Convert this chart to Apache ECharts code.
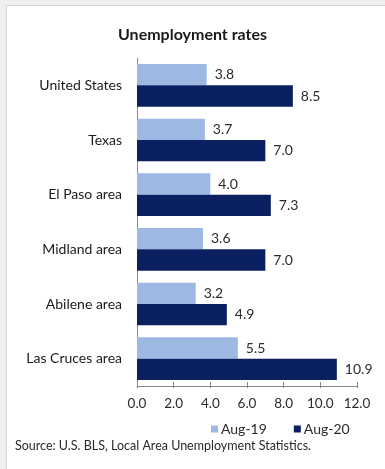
<!DOCTYPE html>
<html>
<head>
<meta charset="utf-8">
<script src="https://cdn.jsdelivr.net/npm/echarts@6/dist/echarts.min.js"></script>
<style>
html,body{margin:0;padding:0;background:#f0f0f0;width:385px;height:469px;overflow:hidden;}
#frame{position:absolute;left:6px;top:5px;right:0;bottom:0;background:#fff;border-left:1px solid #d6d6d6;border-top:1px solid #d6d6d6;}
#chart{position:absolute;left:0;top:0;width:385px;height:469px;}
</style>
</head>
<body>
<div id="frame"></div>
<div id="chart"></div>
<script>
const categories = ["United States", "Texas", "El Paso area", "Midland area", "Abilene area", "Las Cruces area"];
const aug19 = [3.8, 3.7, 4.0, 3.6, 3.2, 5.5];
const aug20 = [8.5, 7.0, 7.3, 7.0, 4.9, 10.9];
const seriesNames = ["Aug-19", "Aug-20"];
const xTicks = [0, 2, 4, 6, 8, 10, 12];

const font = "Lato, 'Open Sans', sans-serif";
const chart = echarts.init(document.getElementById('chart'), null, {renderer: 'canvas'});
const labelCfg = {
  show: true, position: 'right', distance: 8,
  color: '#2a2a2a', fontSize: 14, fontFamily: font,
  formatter: p => p.value.toFixed(1)
};
const xMin = xTicks[0], xMax = xTicks[xTicks.length-1];
chart.setOption({
  animation: false,
  backgroundColor: 'transparent',
  title: {
    text: 'Unemployment rates', left: 'center', top: 22,
    textStyle: {fontFamily: font, fontSize: 16, fontWeight: 'bold', color: '#1a1a1a'}
  },
  legend: {
    data: seriesNames, left: 206, top: 417,
    itemWidth: 7, itemHeight: 7, itemGap: 27, icon: 'rect',
    textStyle: {fontFamily: font, fontSize: 14, color: '#2a2a2a', padding: [0,0,0,-2]}
  },
  graphic: [{
    type: 'text', left: 15, top: 439,
    style: {text: 'Source: U.S. BLS, Local Area Unemployment Statistics.', font: '12.5px ' + font, fill: '#2a2a2a'}
  }],
  grid: {left: 137, right: 28, top: 58, bottom: 83},
  xAxis: [{
    type: 'value', min: xMin, max: xMax, interval: 2,
    splitLine: {show: false},
    axisLine: {show: true, lineStyle: {color: '#888'}},
    axisTick: {show: true, length: 2, lineStyle: {color: '#888'}},
    axisLabel: {fontFamily: font, fontSize: 13.5, color: '#2a2a2a', margin: 11, formatter: v => v.toFixed(1)}
  }, {
    type: 'value', min: xMin, max: xMax, interval: 2, position: 'bottom',
    splitLine: {show: false},
    axisLine: {show: false},
    axisTick: {show: true, inside: true, length: 4, lineStyle: {color: '#888'}},
    axisLabel: {show: false}
  }],
  yAxis: {
    type: 'category', data: categories, inverse: true,
    axisLine: {show: true, lineStyle: {color: '#888'}},
    axisTick: {show: false},
    axisLabel: {fontFamily: font, fontSize: 14, color: '#1a1a1a', margin: 15}
  },
  series: [
    {name: seriesNames[0], type: 'bar', data: aug19, barGap: '0%', barCategoryGap: '22%',
     itemStyle: {color: '#9db9e3'}, label: labelCfg},
    {name: seriesNames[1], type: 'bar', data: aug20, barGap: '0%', barCategoryGap: '22%',
     itemStyle: {color: '#0b2060'}, label: labelCfg}
  ]
});
</script>
</body>
</html>
